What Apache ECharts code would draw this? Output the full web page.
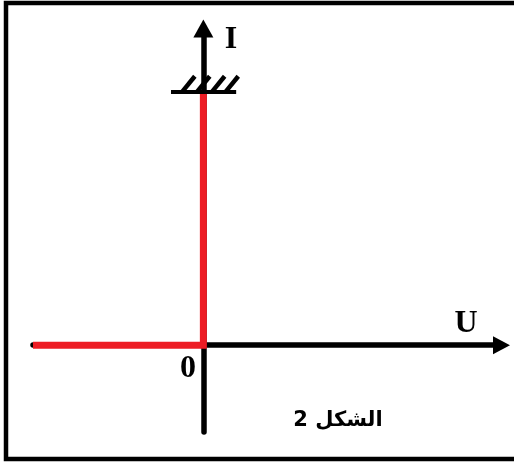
<!DOCTYPE html>
<html>
<head>
<meta charset="utf-8">
<script src="https://cdn.jsdelivr.net/npm/echarts@6/dist/echarts.min.js"></script>
<style>
    html, body { margin: 0; padding: 0; background: #fff; }
    #chart { width: 514px; height: 464px; }
</style>
</head>
<body>
<div id="chart"></div>
<script>
    // axes range (U horizontal, I vertical)
    var uRange = [-4, 7];
    var iRange = [-1, 3.65];
    // characteristic: I = 0 for U < 0, vertical at U = 0 up to saturation
    var curveU = [-4, 0, 0];
    var curveI = [0, 0, 2.92];
    // saturation bar and its hatches
    var barU = [-0.76, 0.77];
    var barI = 2.92;
    var hatchU = [-0.5, -0.15, 0.2, 0.52];
    var hatchDU = 0.3, hatchDI = 0.18;
    // texts
    var xName = 'U', yName = 'I', originLabel = '0', caption = 'الشكل 2';

    var red = '#ed1c24';
    var serif = 'bold 32px "Liberation Serif"';

    var curve = curveU.map(function (u, i) { return [u, curveI[i]]; });
    var hatchLines = [{coords: [[barU[0], barI], [barU[1], barI]], lineStyle: {width: 4}}];
    hatchU.forEach(function (u) {
        hatchLines.push({coords: [[u, barI], [u + hatchDU, barI + hatchDI]]});
    });

    var myEcharts = echarts.init(document.getElementById('chart'));
    myEcharts.setOption({
        animation: false,
        grid: {left: 33, right: 12.5, top: 28.5, bottom: 32},
        xAxis: {
            type: 'value', min: uRange[0], max: uRange[1],
            axisLine: {onZero: true, symbol: ['none', 'triangle'], symbolSize: [18, 17],
                lineStyle: {color: '#000', width: 5.5}},
            axisTick: {show: false}, axisLabel: {show: false}, splitLine: {show: false}
        },
        yAxis: {
            type: 'value', min: iRange[0], max: iRange[1],
            axisLine: {onZero: true, symbol: ['none', 'triangle'], symbolSize: [20, 18],
                lineStyle: {color: '#000', width: 5.5}},
            axisTick: {show: false}, axisLabel: {show: false}, splitLine: {show: false}
        },
        series: [{
            type: 'line',
            data: curve,
            symbol: 'none',
            z: 3,
            lineStyle: {color: red, width: 7, cap: 'butt', join: 'miter'}
        }, {
            type: 'lines',
            coordinateSystem: 'cartesian2d',
            z: 4,
            data: hatchLines,
            lineStyle: {color: '#000', width: 4.5, opacity: 1, curveness: 0}
        }],
        graphic: [
            {type: 'rect', shape: {x: 6, y: 3, width: 520, height: 456},
                style: {fill: 'none', stroke: '#000', lineWidth: 4.5}},
            {type: 'text', x: 231, y: 40, style: {text: yName, font: serif, fill: '#000', align: 'center', verticalAlign: 'middle'}},
            {type: 'text', x: 466, y: 324, style: {text: xName, font: serif, fill: '#000', align: 'center', verticalAlign: 'middle'}},
            {type: 'text', x: 188, y: 369, style: {text: originLabel, font: serif, fill: '#000', align: 'center', verticalAlign: 'middle'}},
            {type: 'text', x: 338, y: 421, style: {text: caption, font: 'bold 21px "DejaVu Sans"', fill: '#000', align: 'center', verticalAlign: 'middle'}}
        ]
    });
</script>
</body>
</html>
